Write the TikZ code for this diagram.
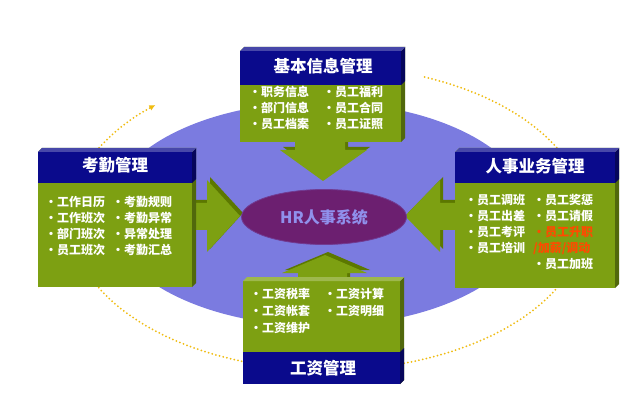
\documentclass[tikz,border=0pt]{standalone}
\usepackage{fontspec}
\usepackage{tikz}
\usetikzlibrary{arrows.meta,shapes.geometric}
\newfontfamily\cjk{Noto Sans CJK SC}
\definecolor{HRNavy}{HTML}{0A0A8C}
\definecolor{HRGreen}{HTML}{7DA012}
\definecolor{HRGreenDark}{HTML}{5C7800}
\definecolor{HRLavender}{HTML}{7B7BE0}
\definecolor{HRPlum}{HTML}{6C1F70}
\definecolor{HRLilac}{HTML}{9090EC}
\definecolor{HRGold}{HTML}{F0BC10}
\definecolor{HROrange}{HTML}{FF4A00}
% slab with a thin extrusion to the upper right: x1,y1,x2,y2,colour
\newcommand{\hrslab}[5]{%
 \fill[#5] (#1,#2+4) rectangle (#3-4,#4);
 \fill[#5!65!black] (#3-4,#2+4) -- (#3,#2) -- (#3,#4-4) -- (#3-4,#4) -- cycle;
 \fill[#5!75!white] (#1,#2+4) -- (#1+4,#2) -- (#3,#2) -- (#3-4,#2+4) -- cycle;}

\begin{document}
\begin{tikzpicture}[x=1pt,y=-1pt,>=Latex,
 headtext/.style={font=\cjk\bfseries\fontsize{16.5}{18}\selectfont,text=white,inner sep=0pt},
 itemtext/.style={font=\cjk\bfseries\fontsize{12}{16}\selectfont,text=white,align=left,anchor=north west,inner sep=0pt},
 blockarrow/.style={fill=HRGreen},
 blockshade/.style={fill=HRGreenDark,xshift=3pt,yshift=3pt},
 ringarc/.style={draw=HRGold,line width=2pt,line cap=round,dash pattern=on 0pt off 3.8pt}]
 \fill[white] (0,0) rectangle (634,403);
 \useasboundingbox (0,0) rectangle (634,403);

 % background disc and the dotted ring
 \fill[HRLavender] (320,214) ellipse [x radius=212, y radius=112];
 \draw[ringarc,-{Latex[length=6pt,width=6pt]}] ({328+258*cos(207.5)},{218+152*sin(207.5)})
   arc[start angle=207.5,end angle=228,x radius=258,y radius=152];
 \draw[ringarc] ({328+258*cos(292)},{218+152*sin(292)})
   arc[start angle=292,end angle=333,x radius=258,y radius=152];
 \draw[ringarc] ({328+258*cos(27)},{218+152*sin(27)})
   arc[start angle=27,end angle=155,x radius=258,y radius=152];

 % block arrows into the centre
 \fill[blockshade] (295,135) -- (295,150) -- (280,150) -- (323,181) -- (367,150) -- (345,150) -- (345,135) -- cycle;
 \fill[blockarrow] (295,135) -- (295,150) -- (280,150) -- (323,181) -- (367,150) -- (345,150) -- (345,135) -- cycle;
 \fill[blockshade] (185,203) -- (207,203) -- (207,180) -- (240,216) -- (207,252) -- (207,230) -- (185,230) -- cycle;
 \fill[blockarrow] (185,203) -- (207,203) -- (207,180) -- (240,216) -- (207,252) -- (207,230) -- (185,230) -- cycle;
 \fill[blockshade] (462,203) -- (440,203) -- (440,180) -- (405,216) -- (440,252) -- (440,230) -- (462,230) -- cycle;
 \fill[blockarrow] (462,203) -- (440,203) -- (440,180) -- (405,216) -- (440,252) -- (440,230) -- (462,230) -- cycle;
 \fill[blockshade] (298,285) -- (298,273) -- (282,273) -- (325,255) -- (367,273) -- (347,273) -- (347,285) -- cycle;
 \fill[blockarrow] (298,285) -- (298,273) -- (282,273) -- (325,255) -- (367,273) -- (347,273) -- (347,285) -- cycle;

 % the four panels
 \hrslab{240}{47}{405}{142}{HRGreen}
 \hrslab{240}{47}{405}{85}{HRNavy}
 \hrslab{38}{148}{196}{287}{HRGreen}
 \hrslab{38}{148}{196}{183}{HRNavy}
 \hrslab{455}{148}{619}{288}{HRGreen}
 \hrslab{455}{148}{619}{183}{HRNavy}
 \hrslab{243}{277}{404}{384}{HRGreen}
 \fill[HRNavy] (243,352) rectangle (400,384);
 \fill[HRNavy!65!black] (400,352) -- (404,348) -- (404,380) -- (400,384) -- cycle;

 \node[ellipse,fill=HRPlum,draw=HRPlum!70!HRLavender,line width=0.8pt,minimum width=165,minimum height=55,inner sep=0pt,
   text=HRLilac,font=\cjk\bfseries\fontsize{16}{18}\selectfont] (hr) at (324,217) {HR人事系统};

 \node[headtext] (jbhead) at (323,66) {基本信息管理};
 \node[itemtext] (jbleft) at (249,86) {·职务信息\\·部门信息\\·员工档案};
 \node[itemtext] (jbright) at (323,86) {·员工福利\\·员工合同\\·员工证照};

 \node[headtext] (kqhead) at (115,165) {考勤管理};
 \node[itemtext] (kqleft) at (45,196) {·工作日历\\·工作班次\\·部门班次\\·员工班次};
 \node[itemtext] (kqright) at (112,196) {·考勤规则\\·考勤异常\\·异常处理\\·考勤汇总};

 \node[headtext] (rshead) at (535,166) {人事业务管理};
 \node[itemtext] (rsleft) at (465,194) {·员工调班\\·员工出差\\·员工考评\\·员工培训};
 \node[itemtext] (rsright) at (533,194) {·员工奖惩\\·员工请假\\\textcolor{HROrange}{·员工升职}\\\textcolor{HROrange}{/加薪/调动}\\·员工加班};

 \node[itemtext,font=\cjk\bfseries\fontsize{12}{16.8}\selectfont] (gzleft) at (250,288) {·工资税率\\·工资帐套\\·工资维护};
 \node[itemtext,font=\cjk\bfseries\fontsize{12}{16.8}\selectfont] (gzright) at (324,288) {·工资计算\\·工资明细};
 \node[headtext] (gzhead) at (323,368) {工资管理};
\end{tikzpicture}
\end{document}
